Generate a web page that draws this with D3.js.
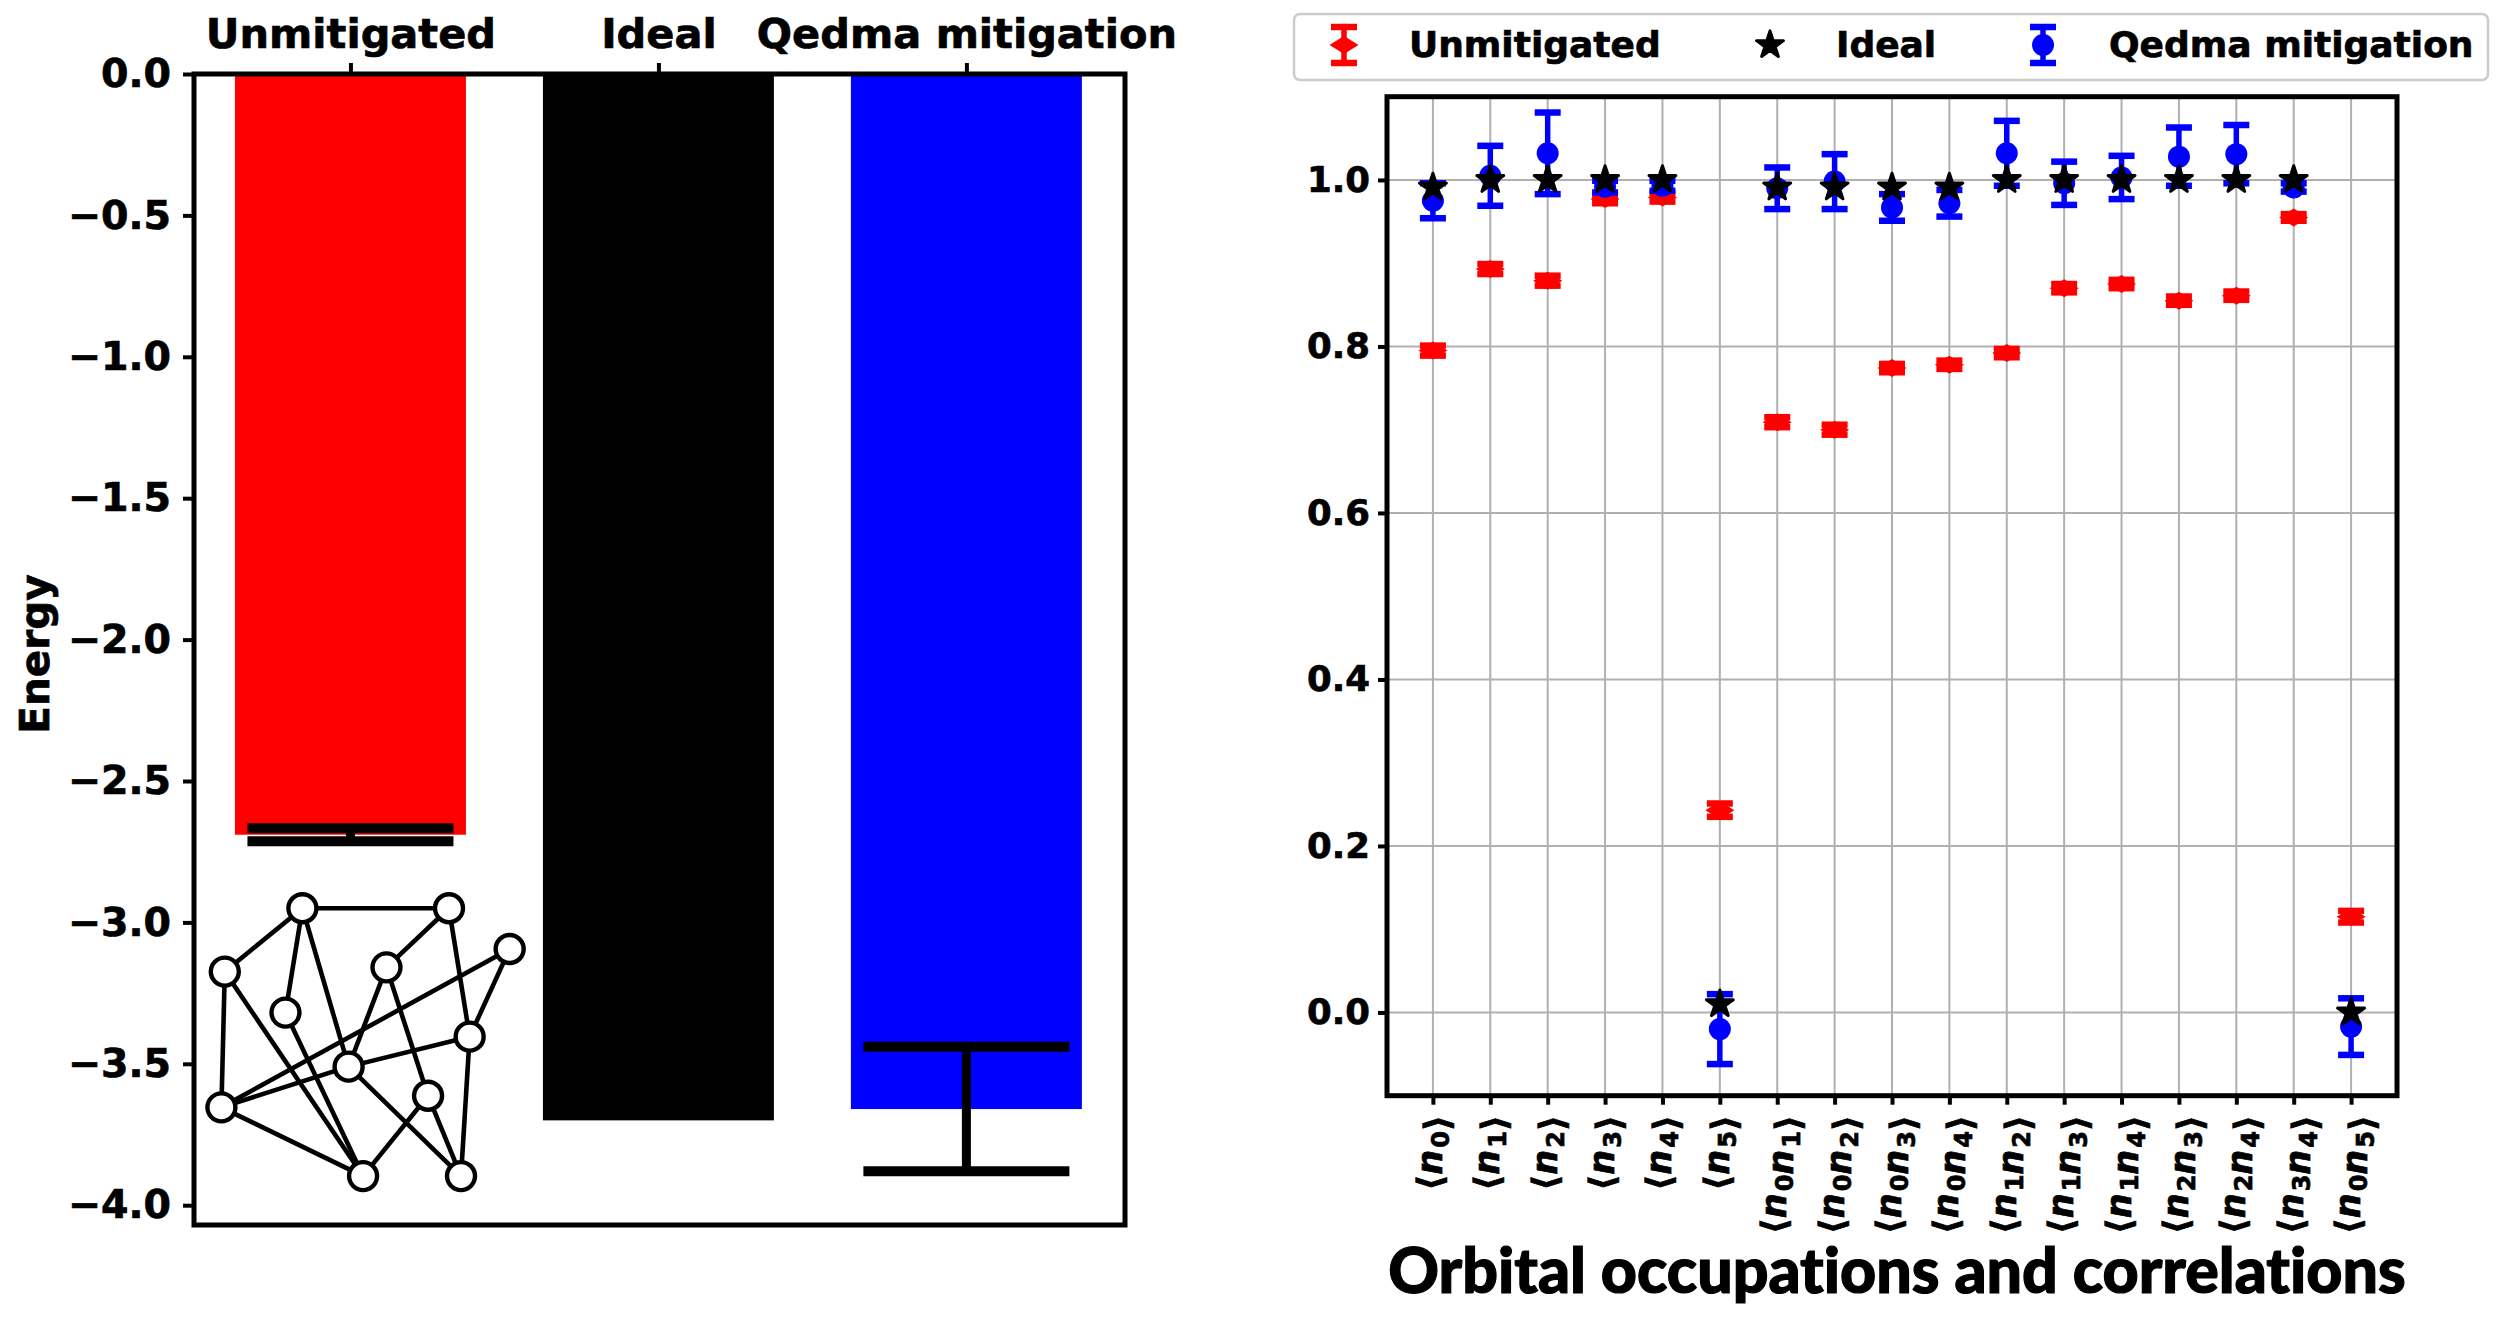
<!DOCTYPE html>
<html>
<head>
<meta charset="utf-8">
<script src="https://cdn.jsdelivr.net/npm/d3@7"></script>
<style>
  html, body { margin: 0; background: #fff; }
  text { font-family: "DejaVu Sans"; font-weight: bold; fill: #000; stroke: #000; stroke-width: 0.7px; }
</style>
</head>
<body>
<svg id="chart" width="2500" height="1341"></svg>
<script>
// left panel: total energy
const methods = ["Unmitigated", "Ideal", "Qedma mitigation"];
const barColors = ["#ff0000", "#000000", "#0000ff"];
const energy = [-2.69, -3.70, -3.66];
const energyErr = [0.023, 0, 0.22];
const energyTicks = [0, -0.5, -1, -1.5, -2, -2.5, -3, -3.5, -4];

// inset graph, in the data units of the left panel
const graphNodes = [
  [-0.156, -2.950], [0.320, -2.950], [0.517, -3.094], [-0.408, -3.174],
  [0.117, -3.159], [-0.211, -3.319], [0.387, -3.404], [-0.006, -3.510],
  [0.252, -3.613], [-0.419, -3.654], [0.041, -3.897], [0.359, -3.897]
];
const graphEdges = [
  [0, 1], [0, 3], [0, 5], [0, 7], [1, 4], [1, 6], [2, 6], [2, 9], [3, 9], [3, 10],
  [4, 7], [4, 8], [5, 10], [6, 7], [6, 11], [7, 9], [7, 11], [8, 10], [8, 11], [9, 10]
];

// right panel: orbital occupations and correlations
const orbitals = [[0], [1], [2], [3], [4], [5], [0, 1], [0, 2], [0, 3], [0, 4], [1, 2], [1, 3], [1, 4], [2, 3], [2, 4], [3, 4], [0, 5]];
const unmitigated = [0.795, 0.893, 0.879, 0.977, 0.979, 0.243, 0.709, 0.700, 0.774, 0.778, 0.792, 0.870, 0.875, 0.855, 0.861, 0.955, 0.115];
const unmitigatedErr = [0.006, 0.006, 0.006, 0.005, 0.005, 0.008, 0.006, 0.006, 0.005, 0.005, 0.005, 0.005, 0.005, 0.005, 0.005, 0.004, 0.007];
const ideal = [0.991, 1, 1, 1, 1, 0.010, 0.991, 0.991, 0.991, 0.991, 1, 1, 1, 1, 1, 1, 0];
const qedma = [0.975, 1.005, 1.032, 0.992, 0.993, -0.020, 0.990, 0.998, 0.967, 0.972, 1.032, 0.996, 1.003, 1.028, 1.031, 0.991, -0.017];
const qedmaErr = [0.021, 0.036, 0.049, 0.007, 0.006, 0.042, 0.025, 0.033, 0.016, 0.016, 0.039, 0.026, 0.026, 0.035, 0.035, 0.005, 0.034];
const occTicks = [0, 0.2, 0.4, 0.6, 0.8, 1];

const svg = d3.select("#chart");
const line = (g, x1, y1, x2, y2, color, w) => g.append("line")
  .attr("x1", x1).attr("y1", y1).attr("x2", x2).attr("y2", y2)
  .attr("stroke", color).attr("stroke-width", w);

// ---- left panel
const left = { l: 194, r: 1125, t: 74, b: 1225 };
const xBar = d3.scaleLinear().domain([-0.508, 2.515]).range([left.l, left.r]);
const yBar = d3.scaleLinear().domain([0, -4.07]).range([left.t, left.b]);
const gl = svg.append("g");
const barW = 0.75;

gl.selectAll("rect.bar").data(methods).enter().append("rect")
  .attr("class", "bar")
  .attr("x", (d, i) => xBar(i - barW / 2))
  .attr("width", xBar(barW) - xBar(0))
  .attr("y", yBar(0))
  .attr("height", (d, i) => yBar(energy[i]) - yBar(0))
  .attr("fill", (d, i) => barColors[i]);

methods.forEach((m, i) => {
  if (!energyErr[i]) return;
  const x = xBar(i), hi = yBar(energy[i] + energyErr[i]), lo = yBar(energy[i] - energyErr[i]);
  line(gl, x, hi, x, lo, "#000", 9);
  [hi, lo].forEach(y => line(gl, x - 103, y, x + 103, y, "#000", 10));
});

// inset graph
graphEdges.forEach(e => {
  const a = graphNodes[e[0]], b = graphNodes[e[1]];
  line(gl, xBar(a[0]), yBar(a[1]), xBar(b[0]), yBar(b[1]), "#000", 4.6);
});
gl.selectAll("circle.node").data(graphNodes).enter().append("circle")
  .attr("class", "node")
  .attr("cx", d => xBar(d[0])).attr("cy", d => yBar(d[1]))
  .attr("r", 14).attr("fill", "#fff").attr("stroke", "#000").attr("stroke-width", 4.4);

const yAxisL = gl.append("g").attr("transform", `translate(${left.l},0)`)
  .call(d3.axisLeft(yBar).tickValues(energyTicks).tickFormat(d3.format(".1f")).tickSize(11).tickPadding(12));
const xAxisL = gl.append("g").attr("transform", `translate(0,${left.t})`)
  .call(d3.axisTop(xBar).tickValues([0, 1, 2]).tickFormat(i => methods[i]).tickSize(11).tickPadding(15));
yAxisL.selectAll("text").style("font-size", "39.5px");
xAxisL.selectAll("text").style("font-size", "41.5px");
[yAxisL, xAxisL].forEach(a => {
  a.select(".domain").remove();
  a.selectAll(".tick line").attr("stroke", "#000").attr("stroke-width", 4);
  a.selectAll("text").style("font-family", "DejaVu Sans").style("font-weight", "bold").attr("fill", "#000");
});
gl.append("rect").attr("x", left.l).attr("y", left.t)
  .attr("width", left.r - left.l).attr("height", left.b - left.t)
  .attr("fill", "none").attr("stroke", "#000").attr("stroke-width", 5);
gl.append("text").attr("transform", "translate(49,654) rotate(-90)")
  .attr("text-anchor", "middle").style("font-size", "40.5px").text("Energy");

// ---- right panel
const right = { l: 1387, r: 2397, t: 96.7, b: 1095.7 };
const xOcc = d3.scaleLinear().domain([-0.8, 16.8]).range([right.l, right.r]);
const yOcc = d3.scaleLinear().domain([-0.1, 1.1]).range([right.b, right.t]);
const gr = svg.append("g");

orbitals.forEach((o, i) => line(gr, xOcc(i), right.t, xOcc(i), right.b, "#b0b0b0", 2));
occTicks.forEach(t => line(gr, right.l, yOcc(t), right.r, yOcc(t), "#b0b0b0", 2));

// marker glyphs
const diamondPath = "M-14.5,0L0,-9L14.5,0L0,9Z";
const starPath = d3.symbol().type(d3.symbolStar).size(225)();

const errorBar = (g, x, y1, y2, color) => {
  line(g, x, y1, x, y2, color, 5.5);
  [y1, y2].forEach(y => line(g, x - 13, y, x + 13, y, color, 6.5));
};
const drawStar = (g, x, y) => g.append("path").attr("d", starPath)
  .attr("transform", `translate(${x},${y})`)
  .attr("fill", "#000").attr("stroke", "#000").attr("stroke-width", 3).attr("stroke-linejoin", "round");

orbitals.forEach((o, i) => {
  errorBar(gr, xOcc(i), yOcc(unmitigated[i] + unmitigatedErr[i]), yOcc(unmitigated[i] - unmitigatedErr[i]), "#ff0000");
  gr.append("path").attr("d", diamondPath)
    .attr("transform", `translate(${xOcc(i)},${yOcc(unmitigated[i])})`).attr("fill", "#ff0000");
});
orbitals.forEach((o, i) => {
  errorBar(gr, xOcc(i), yOcc(qedma[i] + qedmaErr[i]), yOcc(qedma[i] - qedmaErr[i]), "#0000ff");
  gr.append("circle").attr("cx", xOcc(i)).attr("cy", yOcc(qedma[i])).attr("r", 11).attr("fill", "#0000ff");
});
orbitals.forEach((o, i) => drawStar(gr, xOcc(i), yOcc(ideal[i])));

const yAxisR = gr.append("g").attr("transform", `translate(${right.l},0)`)
  .call(d3.axisLeft(yOcc).tickValues(occTicks).tickFormat(d3.format(".1f")).tickSize(9).tickPadding(8));
yAxisR.selectAll("text").style("font-size", "35.5px").style("font-family", "DejaVu Sans").style("font-weight", "bold").attr("fill", "#000");
const xAxisR = gr.append("g").attr("transform", `translate(0,${right.b})`)
  .call(d3.axisBottom(xOcc).tickValues(d3.range(orbitals.length)).tickFormat("").tickSize(9));
[yAxisR, xAxisR].forEach(a => {
  a.select(".domain").remove();
  a.selectAll(".tick line").attr("stroke", "#000").attr("stroke-width", 4);
});
gr.append("rect").attr("x", right.l).attr("y", right.t)
  .attr("width", right.r - right.l).attr("height", right.b - right.t)
  .attr("fill", "none").attr("stroke", "#000").attr("stroke-width", 5);

// rotated math labels
orbitals.forEach((o, i) => {
  const t = gr.append("text")
    .attr("transform", `translate(${xOcc(i) + 9},1115) rotate(-90)`)
    .attr("text-anchor", "end").style("font-size", "35px");
  t.append("tspan").text("\u27e8");
  o.forEach(k => {
    t.append("tspan").style("font-style", "italic").text("n");
    t.append("tspan").attr("dx", 2).attr("dy", 7).style("font-size", "24px").text(k);
    t.append("tspan").attr("dy", -7).text("");
  });
  t.append("tspan").text("\u27e9");
});

gr.append("text").attr("x", 1897).attr("y", 1293).attr("text-anchor", "middle")
  .style("font-family", "Lato").style("font-weight", 900).style("font-size", "62.7px")
  .style("font-variant-ligatures", "none").style("stroke-width", "1.2px")
  .text("Orbital occupations and correlations");

// legend
const lg = svg.append("g");
lg.append("rect").attr("x", 1294).attr("y", 14).attr("width", 1194).attr("height", 66).attr("rx", 6)
  .attr("fill", "#fff").attr("stroke", "#ccc").attr("stroke-width", 2.5);
const legendY = 45;
errorBar(lg, 1344, legendY - 18, legendY + 18, "#ff0000");
lg.append("path").attr("d", diamondPath).attr("transform", `translate(1344,${legendY})`).attr("fill", "#ff0000");
drawStar(lg, 1770, legendY);
errorBar(lg, 2043, legendY - 18, legendY + 18, "#0000ff");
lg.append("circle").attr("cx", 2043).attr("cy", legendY).attr("r", 11).attr("fill", "#0000ff");
lg.selectAll("text").data(methods).enter().append("text")
  .attr("x", (d, i) => [1409, 1836, 2109][i]).attr("y", 57)
  .style("font-size", "36px").text(d => d);
</script>
</body>
</html>
